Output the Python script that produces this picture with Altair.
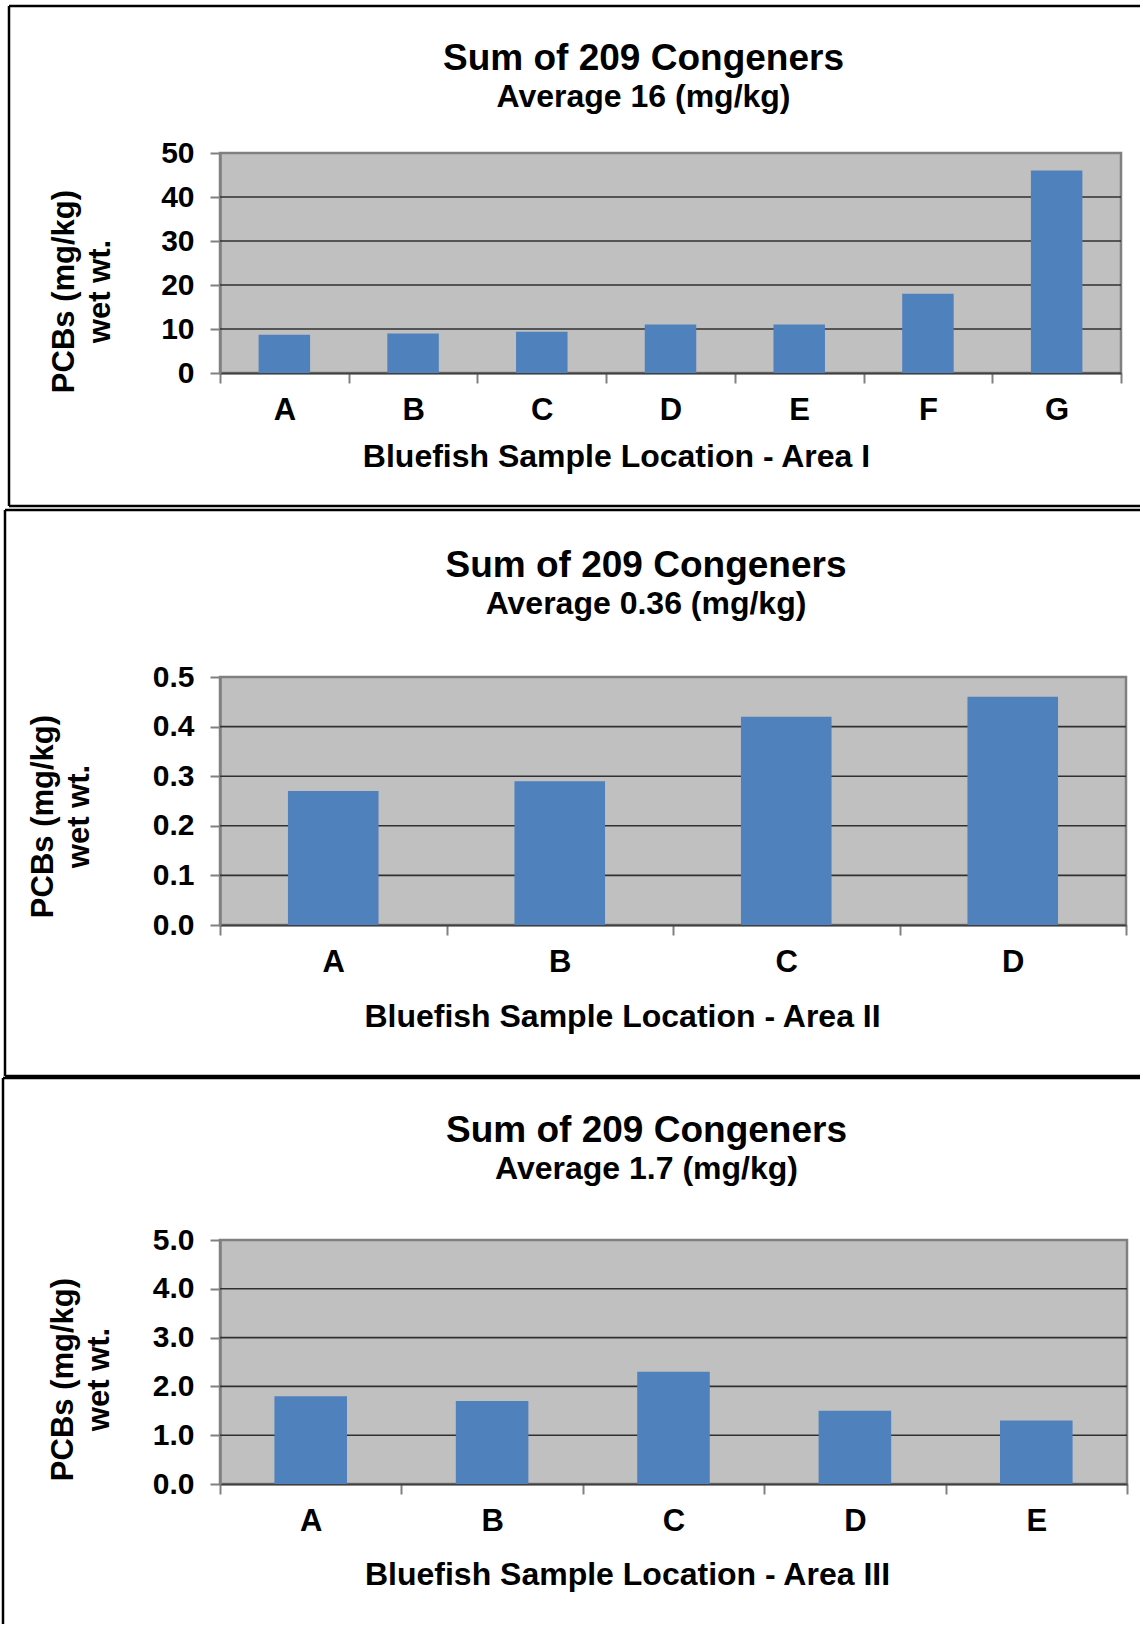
import altair as alt
import pandas as pd

FONT = "Liberation Sans"
BAR = "#4F81BD"

# ---- data ----
cats1 = ["A", "B", "C", "D", "E", "F", "G"]
vals1 = [8.7, 9.0, 9.4, 11.0, 11.0, 18.0, 46.0]
ticks1 = [0, 10, 20, 30, 40, 50]

cats2 = ["A", "B", "C", "D"]
vals2 = [0.27, 0.29, 0.42, 0.46]
ticks2 = [0.0, 0.1, 0.2, 0.3, 0.4, 0.5]

cats3 = ["A", "B", "C", "D", "E"]
vals3 = [1.8, 1.7, 2.3, 1.5, 1.3]
ticks3 = [0.0, 1.0, 2.0, 3.0, 4.0, 5.0]

title_main = "Sum of 209 Congeners"
subtitles = ["Average 16 (mg/kg)", "Average 0.36 (mg/kg)", "Average 1.7 (mg/kg)"]
xtitles = ["Bluefish Sample Location - Area I",
           "Bluefish Sample Location - Area II",
           "Bluefish Sample Location - Area III"]
ytitle = ["PCBs (mg/kg)", "wet wt."]


def panel(cats, vals, ticks, fmt, subtitle, xtitle, width, height,
          title_offset, ytx, yty, xtpad, xtx, border, draw_bottom=True):
    df = pd.DataFrame({"cat": cats, "val": vals})
    grid_df = pd.DataFrame({"g": ticks[1:-1]})
    ymax = ticks[-1]

    yscale = alt.Scale(domain=[0, ymax], nice=False, zero=True)

    grid = alt.Chart(grid_df).mark_rule(color="#303030", strokeWidth=1.6).encode(
        y=alt.Y("g:Q", scale=yscale)
    )

    bars = alt.Chart(df).mark_bar(color=BAR, width=alt.RelativeBandSize(0.4)).encode(
        x=alt.X(
            "cat:N", sort=cats,
            scale=alt.Scale(paddingInner=0, paddingOuter=0),
            axis=alt.Axis(
                title=xtitle, tickBand="extent", labelAngle=0, grid=False,
                domainColor="#404040", domainWidth=2,
                tickColor="#808080", tickWidth=2, tickSize=10,
                labelFont=FONT, labelFontSize=31, labelFontWeight="bold",
                labelColor="black", labelPadding=12,
                titleFont=FONT, titleFontSize=32, titleFontWeight="bold",
                titleColor="black", titlePadding=xtpad,
                titleX=xtx, titleAlign="center",
            ),
        ),
        y=alt.Y(
            "val:Q", scale=yscale,
            axis=alt.Axis(
                values=ticks, format=fmt, grid=False, title=ytitle,
                domainColor="#808080", domainWidth=2.5,
                tickColor="#808080", tickWidth=2, tickSize=10,
                labelFont=FONT, labelFontSize=30, labelFontWeight="bold",
                labelColor="black", labelPadding=16,
                titleFont=FONT, titleFontSize=31, titleFontWeight="bold",
                titleColor="black", titleLineHeight=36,
                titleX=ytx, titleY=yty, titleAlign="center",
            ),
        ),
    )

    top, left, bottom = border
    one = alt.Data(values=[{"k": 1}])
    layers = [grid, bars]
    layers.append(alt.Chart(one).mark_rule(color="black", strokeWidth=2.5).encode(
        x=alt.value(left), x2=alt.value(920), y=alt.value(top)))
    layers.append(alt.Chart(one).mark_rule(color="black", strokeWidth=2.5).encode(
        x=alt.value(left), y=alt.value(top), y2=alt.value(bottom)))
    if draw_bottom:
        layers.append(alt.Chart(one).mark_rule(color="black", strokeWidth=2.5).encode(
            x=alt.value(left), x2=alt.value(920), y=alt.value(bottom)))

    return alt.layer(*layers).properties(
        width=width, height=height,
        view=alt.ViewBackground(fill="#C0C0C0", stroke="#808080", strokeWidth=2.5),
        title=alt.TitleParams(
            text=title_main, subtitle=subtitle, anchor="middle", frame="group",
            dx=-27, offset=title_offset,
            font=FONT, fontSize=37, fontWeight="bold", color="black",
            subtitleFont=FONT, subtitleFontSize=32, subtitleFontWeight="bold",
            subtitleColor="black", subtitlePadding=4,
        ),
    )


def spacer(h):
    return alt.Chart(alt.Data(values=[{"k": 1}])).mark_point(opacity=0).encode(
        x=alt.value(0), y=alt.value(0)
    ).properties(width=10, height=h)


p1 = panel(cats1, vals1, ticks1, "d", subtitles[0], xtitles[0], 901, 220,
           -109, -140, 138, 16, 396, (-147, -211, 353))
p2 = panel(cats2, vals2, ticks2, ".1f", subtitles[1], xtitles[1], 906, 248,
           -112, -161, 139, 24, 402, (-167, -215, 399))
p3 = panel(cats3, vals3, ticks3, ".1f", subtitles[2], xtitles[2], 907, 244,
           -109, -141, 139, 23, 407, (-162, -217, 384), draw_bottom=False)

chart = alt.vconcat(
    p1, spacer(304), p2, spacer(315), p3, spacing=0, bounds="flush"
).properties(
    padding={"top": 3, "left": 0, "right": 0, "bottom": 0}
).configure(font=FONT).configure_view(stroke="transparent")

chart.save("out.html", embed_options={"renderer": "svg", "actions": False})
